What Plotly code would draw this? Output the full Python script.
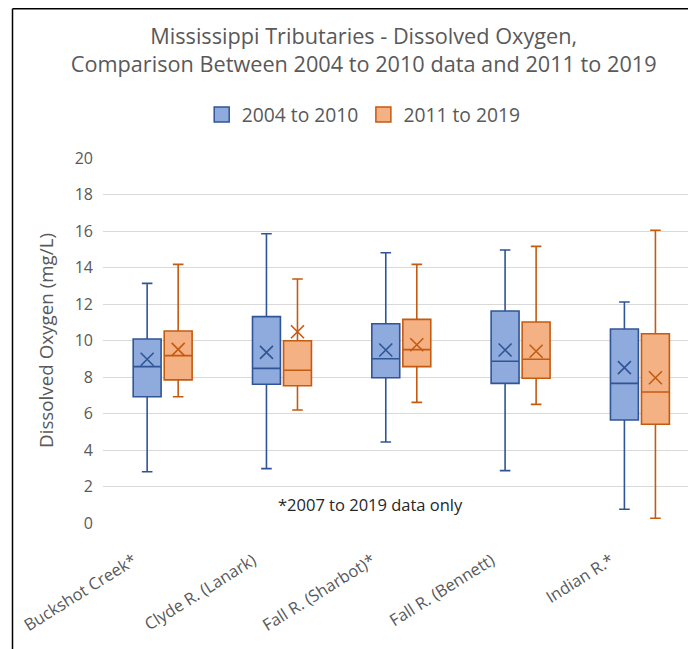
import plotly.graph_objects as go

categories = ["Buckshot Creek*", "Clyde R. (Lanark)", "Fall R. (Sharbot)*", "Fall R. (Bennett)", "Indian R.*"]

# 2004 to 2010
early_lower = [2.81, 2.98, 4.44, 2.87, 0.75]
early_q1 = [6.92, 7.60, 7.96, 7.65, 5.64]
early_median = [8.57, 8.47, 9.00, 8.86, 7.65]
early_q3 = [10.08, 11.31, 10.92, 11.62, 10.63]
early_upper = [13.13, 15.85, 14.81, 14.96, 12.11]
early_mean = [8.97, 9.35, 9.48, 9.48, 8.51]

# 2011 to 2019
late_lower = [6.92, 6.19, 6.61, 6.50, 0.26]
late_q1 = [7.84, 7.52, 8.57, 7.93, 5.41]
late_median = [9.17, 8.37, 9.50, 8.97, 7.18]
late_q3 = [10.52, 9.99, 11.16, 11.01, 10.37]
late_upper = [14.17, 13.37, 14.17, 15.16, 16.04]
late_mean = [9.51, 10.48, 9.77, 9.41, 7.96]

series_names = ["2004 to 2010", "2011 to 2019"]
y_ticks = [0, 2, 4, 6, 8, 10, 12, 14, 16, 18, 20]

FONT = "Open Sans"
GRAY = "#595959"
BLUE_FILL, BLUE_LINE = "#8FAADC", "#2F5597"
ORANGE_FILL, ORANGE_LINE = "#F4B183", "#C55A11"

# figure geometry (page is offset by the 8px body margin)
W, H = 688, 641
L, T, B = 95, 150, 126
PW, PH = W - L, H - T - B


def px_x(p):
    return (p - L) / PW


def px_y(p):
    return (H - B - p) / PH


idx = list(range(len(categories)))
OFFSET = 0.13
BOXW = 0.234

fig = go.Figure()
series = [
    (series_names[0], -OFFSET, early_lower, early_q1, early_median, early_q3, early_upper, early_mean, BLUE_FILL, BLUE_LINE),
    (series_names[1], OFFSET, late_lower, late_q1, late_median, late_q3, late_upper, late_mean, ORANGE_FILL, ORANGE_LINE),
]
for name, off, lo, q1, med, q3, up, mean, fill, line in series:
    xs = [i + off for i in idx]
    fig.add_trace(go.Box(
        name=name, x=xs, lowerfence=lo, q1=q1, median=med, q3=q3, upperfence=up,
        fillcolor=fill, line=dict(color=line, width=1.6), width=BOXW,
        whiskerwidth=0.38, boxpoints=False, hoverinfo="skip", showlegend=False,
        legendgroup=name,
    ))
    fig.add_trace(go.Scatter(
        x=xs, y=mean, mode="markers", showlegend=False, hoverinfo="skip", legendgroup=name,
        marker=dict(symbol="x-thin", size=13, line=dict(color=line, width=1.6)),
    ))
    # legend entry (square swatch like the original)
    fig.add_trace(go.Scatter(
        x=[None], y=[None], mode="markers", name=name, legendgroup=name,
        marker=dict(symbol="square", size=15, color=fill, line=dict(color=line, width=1.5)),
    ))

fig.update_layout(
    width=W, height=H,
    margin=dict(l=L, r=0, t=T, b=B, autoexpand=False),
    paper_bgcolor="white", plot_bgcolor="white",
    font=dict(family=FONT, color=GRAY),
    title=dict(
        text="Mississippi Tributaries - Dissolved Oxygen,<br>Comparison Between 2004 to 2010 data and 2011 to 2019",
        x=0.517, xanchor="center", y=1 - 36 / H, yanchor="middle",
        font=dict(size=21.7, color=GRAY, family=FONT),
    ),
    legend=dict(orientation="h", xref="container", x=0.517, xanchor="center",
                yref="container", y=1 - 107 / H, yanchor="middle",
                font=dict(size=19.3, color=GRAY), itemwidth=30, traceorder="normal"),
    showlegend=True,
)
fig.update_xaxes(
    range=[-0.5, 4.47], tickvals=idx, ticktext=categories, tickangle=-32,
    showgrid=False, zeroline=False, showline=False, ticks="",
    tickfont=dict(size=16.5, color=GRAY), ticklabelshift=-29, ticklabelstandoff=24,
)
fig.update_yaxes(
    range=[0, 20], tickvals=y_ticks, showgrid=True, gridcolor="#D9D9D9", gridwidth=1,
    zeroline=False, showline=False, ticks="", ticklabelstandoff=9,
    tickfont=dict(size=16, color=GRAY),
    title=dict(text="Dissolved Oxygen (mg/L)", font=dict(size=18.8, color=GRAY), standoff=16),
)

# white box breaking the gridline behind the note
fig.add_shape(type="rect", xref="paper", yref="paper",
              x0=px_x(256), x1=px_x(490), y0=px_y(512), y1=px_y(475),
              fillcolor="white", line=dict(width=0), layer="between")
fig.add_annotation(text="*2007 to 2019 data only", xref="paper", yref="paper",
                   x=px_x(362), y=px_y(496), showarrow=False,
                   font=dict(size=16.5, color="#262626"), xanchor="center", yanchor="middle")

# frame
fx, fy = px_x(4.5), px_y(0.8)
fig.add_shape(type="line", xref="paper", yref="paper",
              x0=fx, x1=fx, y0=fy, y1=px_y(H + 10),
              line=dict(color="black", width=1.5))
fig.add_shape(type="line", xref="paper", yref="paper",
              x0=fx, x1=px_x(684), y0=fy, y1=fy,
              line=dict(color="black", width=1.5))

fig.write_html("out.html")
